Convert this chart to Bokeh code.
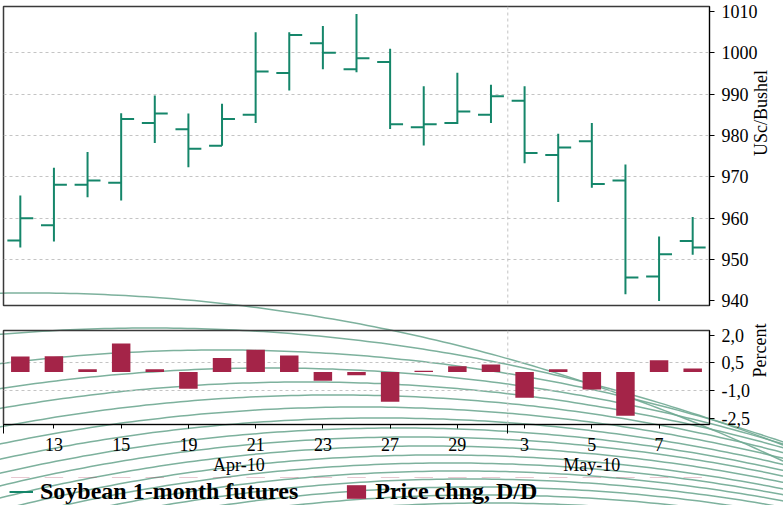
import base64
import math
import numpy as np
from bokeh.plotting import figure
from bokeh.models import (ColumnDataSource, FixedTicker, Span, LinearAxis, CustomJSTickFormatter,
                          Legend, LegendItem, Range1d)
from bokeh.layouts import column
from bokeh.transform import dodge
from bokeh.embed import file_html
from bokeh.resources import INLINE

# ---------------- data ----------------
days = ["12", "13", "14", "15", "16", "19", "20", "21", "22", "23", "26",
        "27", "28", "29", "30", "3", "4", "5", "6", "7", "10"]
open_ = [954.6, 958.3, 968.1, 968.6, 983.0, 981.5, 977.5, 985.0, 995.1, 1002.3, 996.0,
         997.8, 982.0, 983.0, 985.0, 988.4, 975.3, 978.6, 969.1, 945.9, 954.5]
high = [965.5, 972.2, 976.0, 985.4, 989.7, 985.3, 987.7, 1005.0, 1005.0, 1006.5, 1009.4,
        1001.0, 991.9, 995.2, 992.3, 991.9, 980.4, 983.0, 973.0, 955.6, 960.3]
low = [952.9, 954.4, 965.1, 964.3, 978.2, 972.3, 977.5, 983.0, 990.9, 996.0, 995.3,
       981.6, 977.6, 982.8, 983.0, 973.3, 963.9, 967.4, 941.6, 940.0, 951.2]
close = [960.0, 968.1, 969.1, 984.0, 985.3, 976.8, 984.0, 995.5, 1004.3, 1000.0, 998.7,
         982.7, 982.7, 985.8, 989.5, 975.8, 977.1, 968.3, 945.7, 951.3, 952.9]
chg = [0.85, 0.86, 0.15, 1.56, 0.15, -0.91, 0.77, 1.21, 0.90, -0.47, -0.17,
       -1.61, 0.07, 0.32, 0.41, -1.40, 0.15, -0.95, -2.38, 0.64, 0.20]
month_labels = ["Apr-10", "May-10"]
month_centres = [6.5, 17.0]
month_breaks = [-0.5, 14.5]
price_ticks = [940, 950, 960, 970, 980, 990, 1000, 1010]
pct_ticks = [2.0, 0.5, -1.0, -2.5]
series_names = ["Soybean 1-month futures", "Price chng, D/D"]
y_title_top = "USc/Bushel"
y_title_bottom = "Percent"

# ---------------- style ----------------
GREEN = "#15866a"
CRIMSON = "#a42448"
GRID = "#c4c4c4"
ARC = "#6fa892"
FONT = "Liberation Serif"
W, H = 783, 505
H_TOP = 314
H_BOT = 163
H_LEG = H - H_TOP - H_BOT
RIGHT = 74

idx = list(range(len(days)))
src = ColumnDataSource(dict(x=idx, open=open_, high=high, low=low, close=close, chg=chg))
xr = Range1d(-0.5, len(days) - 0.5)


def style_axis(ax):
    ax.major_label_text_font = FONT
    ax.major_label_text_font_size = "18px"
    ax.major_label_text_color = "black"
    ax.axis_label_text_font = FONT
    ax.axis_label_text_font_size = "18px"
    ax.axis_label_text_font_style = "normal"
    ax.axis_label_text_color = "black"
    ax.axis_line_color = "black"
    ax.major_tick_line_color = "black"
    ax.minor_tick_line_color = "black"
    ax.major_tick_in = 0
    ax.minor_tick_in = 0


def vertical_title(ax):
    try:
        ax.axis_label_orientation = math.pi / 2
    except Exception:
        pass


def background_svg():
    # decorative page watermark: a family of large faint arcs
    R = 1771.0
    peaks = [(30, 293), (150, 328), (220, 350), (270, 368), (305, 382), (335, 395),
             (360, 407), (380, 418), (398, 428), (413, 437), (426, 446), (438, 455),
             (449, 463), (459, 471), (468, 479), (476, 487), (484, 495), (491, 503)]
    xs = np.linspace(-20, W + 20, 120)
    paths = []
    for xp, yp in peaks:
        ys = yp + R - np.sqrt(R ** 2 - (xs - xp) ** 2)
        d = "M" + " L".join(f"{x:.1f} {y:.1f}" for x, y in zip(xs, ys))
        paths.append(f'<path d="{d}"/>')
    svg = (f'<svg xmlns="http://www.w3.org/2000/svg" width="{W}" height="{H}">'
           f'<g fill="none" stroke="{ARC}" stroke-width="1.5" stroke-opacity="0.9">'
           + "".join(paths) + "</g></svg>")
    return base64.b64encode(svg.encode()).decode()


def clear(p):
    p.border_fill_color = None
    p.background_fill_color = None


# ---------------- top: OHLC ----------------
p1 = figure(width=W, height=H_TOP, x_range=xr, y_range=Range1d(938.9, 1011.2),
            output_backend="svg", toolbar_location=None, x_axis_location=None,
            y_axis_location="right", min_border_left=3, min_border_right=RIGHT,
            min_border_top=6, min_border_bottom=H_TOP - 305)
clear(p1)
p1.outline_line_color = "#3a3a3a"
p1.outline_line_width = 1.5
p1.xgrid.visible = False
p1.ygrid.ticker = FixedTicker(ticks=price_ticks[1:-1])
p1.ygrid.grid_line_color = GRID
p1.ygrid.grid_line_dash = "3 3"
p1.yaxis.ticker = FixedTicker(ticks=price_ticks)
p1.yaxis.axis_label = y_title_top
p1.yaxis.major_tick_out = 5
p1.yaxis.major_label_standoff = 7
p1.yaxis.axis_label_standoff = 0
style_axis(p1.yaxis[0])
vertical_title(p1.yaxis[0])
p1.add_layout(Span(location=month_breaks[1], dimension="height", line_color=GRID,
                   line_dash="3 3", line_width=1))

p1.segment(x0="x", y0="low", x1="x", y1="high", source=src, line_color=GREEN,
           line_width=2, line_cap="butt")
p1.segment(x0=dodge("x", -0.385), y0="open", x1="x", y1="open", source=src,
           line_color=GREEN, line_width=2, line_cap="butt")
p1.segment(x0="x", y0="close", x1=dodge("x", 0.385), y1="close", source=src,
           line_color=GREEN, line_width=2, line_cap="butt")

# ---------------- bottom: % change ----------------
p2 = figure(width=W, height=H_BOT, x_range=xr, y_range=Range1d(-2.85, 2.26),
            output_backend="svg", toolbar_location=None, y_axis_location="right",
            min_border_left=3, min_border_right=RIGHT, min_border_top=330 - H_TOP,
            min_border_bottom=H_TOP + H_BOT - 427)
clear(p2)
p2.outline_line_color = "#3a3a3a"
p2.outline_line_width = 1.5
p2.xgrid.visible = False
p2.ygrid.ticker = FixedTicker(ticks=pct_ticks[1:-1])
p2.ygrid.grid_line_color = GRID
p2.ygrid.grid_line_dash = "3 3"
p2.yaxis.ticker = FixedTicker(ticks=pct_ticks)
p2.yaxis.formatter = CustomJSTickFormatter(code="return tick.toFixed(1).replace('.', ',');")
p2.yaxis.axis_label = y_title_bottom
p2.yaxis.major_tick_out = 5
p2.yaxis.major_label_standoff = 7
p2.yaxis.axis_label_standoff = 7
style_axis(p2.yaxis[0])
vertical_title(p2.yaxis[0])

label_idx = idx[1::2]
xa = p2.xaxis[0]
xa.ticker = FixedTicker(ticks=label_idx, minor_ticks=month_breaks)
xa.major_label_overrides = {i: days[i] for i in label_idx}
xa.major_tick_out = 4
xa.minor_tick_out = 9
xa.major_label_standoff = 4
style_axis(xa)

month_axis = LinearAxis(ticker=FixedTicker(ticks=month_centres, minor_ticks=[]),
                        formatter=CustomJSTickFormatter(
                            args=dict(pos=month_centres, lab=month_labels),
                            code="const i = pos.indexOf(tick); return i >= 0 ? lab[i] : '';"))
style_axis(month_axis)
month_axis.axis_line_color = None
month_axis.major_tick_out = 0
month_axis.minor_tick_out = 0
month_axis.major_label_standoff = 1
p2.add_layout(month_axis, "below")

p2.add_layout(Span(location=month_breaks[1], dimension="height", line_color=GRID,
                   line_dash="3 3", line_width=1))

p2.vbar(x="x", top="chg", bottom=0, width=0.55, source=src,
        fill_color=CRIMSON, line_color=None)

# ---------------- legend strip ----------------
# same series drawn again, but with a y range that keeps them out of view:
# only their legend keys are visible here
p3 = figure(width=W, height=H_LEG, x_range=xr, y_range=Range1d(-10, -9),
            output_backend="svg", toolbar_location=None, x_axis_location=None,
            y_axis_location=None, min_border=0)
clear(p3)
p3.outline_line_color = None
p3.grid.visible = False
key_ohlc = p3.segment(x0="x", y0="low", x1="x", y1="high", source=src,
                      line_color=GREEN, line_width=2)
key_bar = p3.vbar(x="x", top="chg", bottom=0, width=0.55, source=src,
                  fill_color=CRIMSON, line_color=None)
legend = Legend(items=[LegendItem(label=series_names[0], renderers=[key_ohlc]),
                       LegendItem(label=series_names[1], renderers=[key_bar])],
                location=(6, 0), orientation="horizontal",
                label_text_font=FONT, label_text_font_size="24px",
                label_text_font_style="bold", label_text_color="black",
                glyph_width=24, glyph_height=17, label_standoff=7, spacing=46,
                padding=0, margin=0, border_line_color=None, background_fill_alpha=0)
p3.add_layout(legend)

layout = column(p1, p2, p3, spacing=0,
                styles={"background-image": f"url('data:image/svg+xml;base64,{background_svg()}')",
                        "background-repeat": "no-repeat",
                        "background-position": "0 0",
                        "background-color": "white"})
open("out.html", "w").write(file_html(layout, INLINE))
